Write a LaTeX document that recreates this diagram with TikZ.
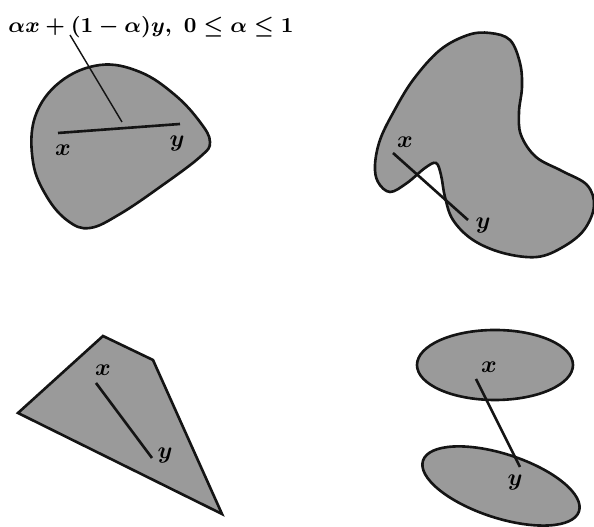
\documentclass[tikz,border=0pt]{standalone}
\usepackage{amsmath,amssymb}
\usepackage{tikz}
\usetikzlibrary{positioning}
\definecolor{SetGray}{HTML}{9A9A9A}
\definecolor{InkBlack}{HTML}{141414}
\tikzset{
  setfill/.style={fill=SetGray,draw=InkBlack,line width=1.1pt},
  segline/.style={draw=InkBlack,line width=1.1pt},
  ptlabel/.style={inner sep=0pt,font=\boldmath}
}
\begin{document}
\begin{tikzpicture}[x=0.42pt,y=0.42pt]
  \useasboundingbox (0,0) rectangle (594,527);
  % convex blob, top left
  \draw[setfill] plot[smooth cycle,tension=0.65] coordinates {
    (100,462) (140,455) (175,432) (200,405) (210,385) (200,370) (160,340)
    (120,313) (90,299) (68,306) (47,330) (33,365) (35,410) (60,445)};
  % non-convex blob, top right
  \draw[setfill] plot[smooth cycle,tension=0.6] coordinates {
    (490,494) (510,487) (520,464) (522,440) (519,415) (521,392) (536,370)
    (562,356) (587,342) (594,321) (584,297) (563,280) (537,270) (503,274)
    (473,287) (453,307) (445,330) (441,352) (436,364) (425,359) (407,344)
    (390,335) (378,345) (375,362) (380,387) (393,414) (413,447) (440,477)
    (468,492)};
  % polygon, bottom left
  \draw[setfill] (18,114) -- (103,191) -- (153,167) -- (222,13) -- cycle;
  % two ellipses, bottom right
  \draw[setfill] (495,162) ellipse [x radius=78,y radius=35];
  \draw[setfill,rotate around={-18:(501,41)}] (501,41) ellipse [x radius=82,y radius=32];
  % end points of the segments
  \coordinate (ax) at (58,394);
  \coordinate (ay) at (180,403);
  \coordinate (amid) at (122,405);
  \coordinate (atext) at (70,492);
  \coordinate (bx) at (393,374);
  \coordinate (by) at (468,307);
  \coordinate (cx) at (96,144);
  \coordinate (cy) at (152,69);
  \coordinate (dx) at (476,148);
  \coordinate (dy) at (520,60);
  \draw[segline] (ax) -- (ay);
  \draw[segline] (bx) -- (by);
  \draw[segline] (cx) -- (cy);
  \draw[segline] (dx) -- (dy);
  \draw[InkBlack,line width=0.6pt] (atext) -- (amid);
  % labels
  \node[ptlabel,anchor=base west,font=\fontsize{9.4}{11}\selectfont\boldmath] (formula) at (8,494)
    {$\alpha x+(1-\alpha)y,\ 0\le\alpha\le 1$};
  \node[ptlabel] (axl) at (63,377) {$x$};
  \node[ptlabel] (ayl) at (177,383) {$y$};
  \node[ptlabel] (bxl) at (405,385) {$x$};
  \node[ptlabel] (byl) at (483,301) {$y$};
  \node[ptlabel] (cxl) at (103,157) {$x$};
  \node[ptlabel] (cyl) at (165,71) {$y$};
  \node[ptlabel] (dxl) at (489,160) {$x$};
  \node[ptlabel] (dyl) at (515,44) {$y$};
\end{tikzpicture}
\end{document}
